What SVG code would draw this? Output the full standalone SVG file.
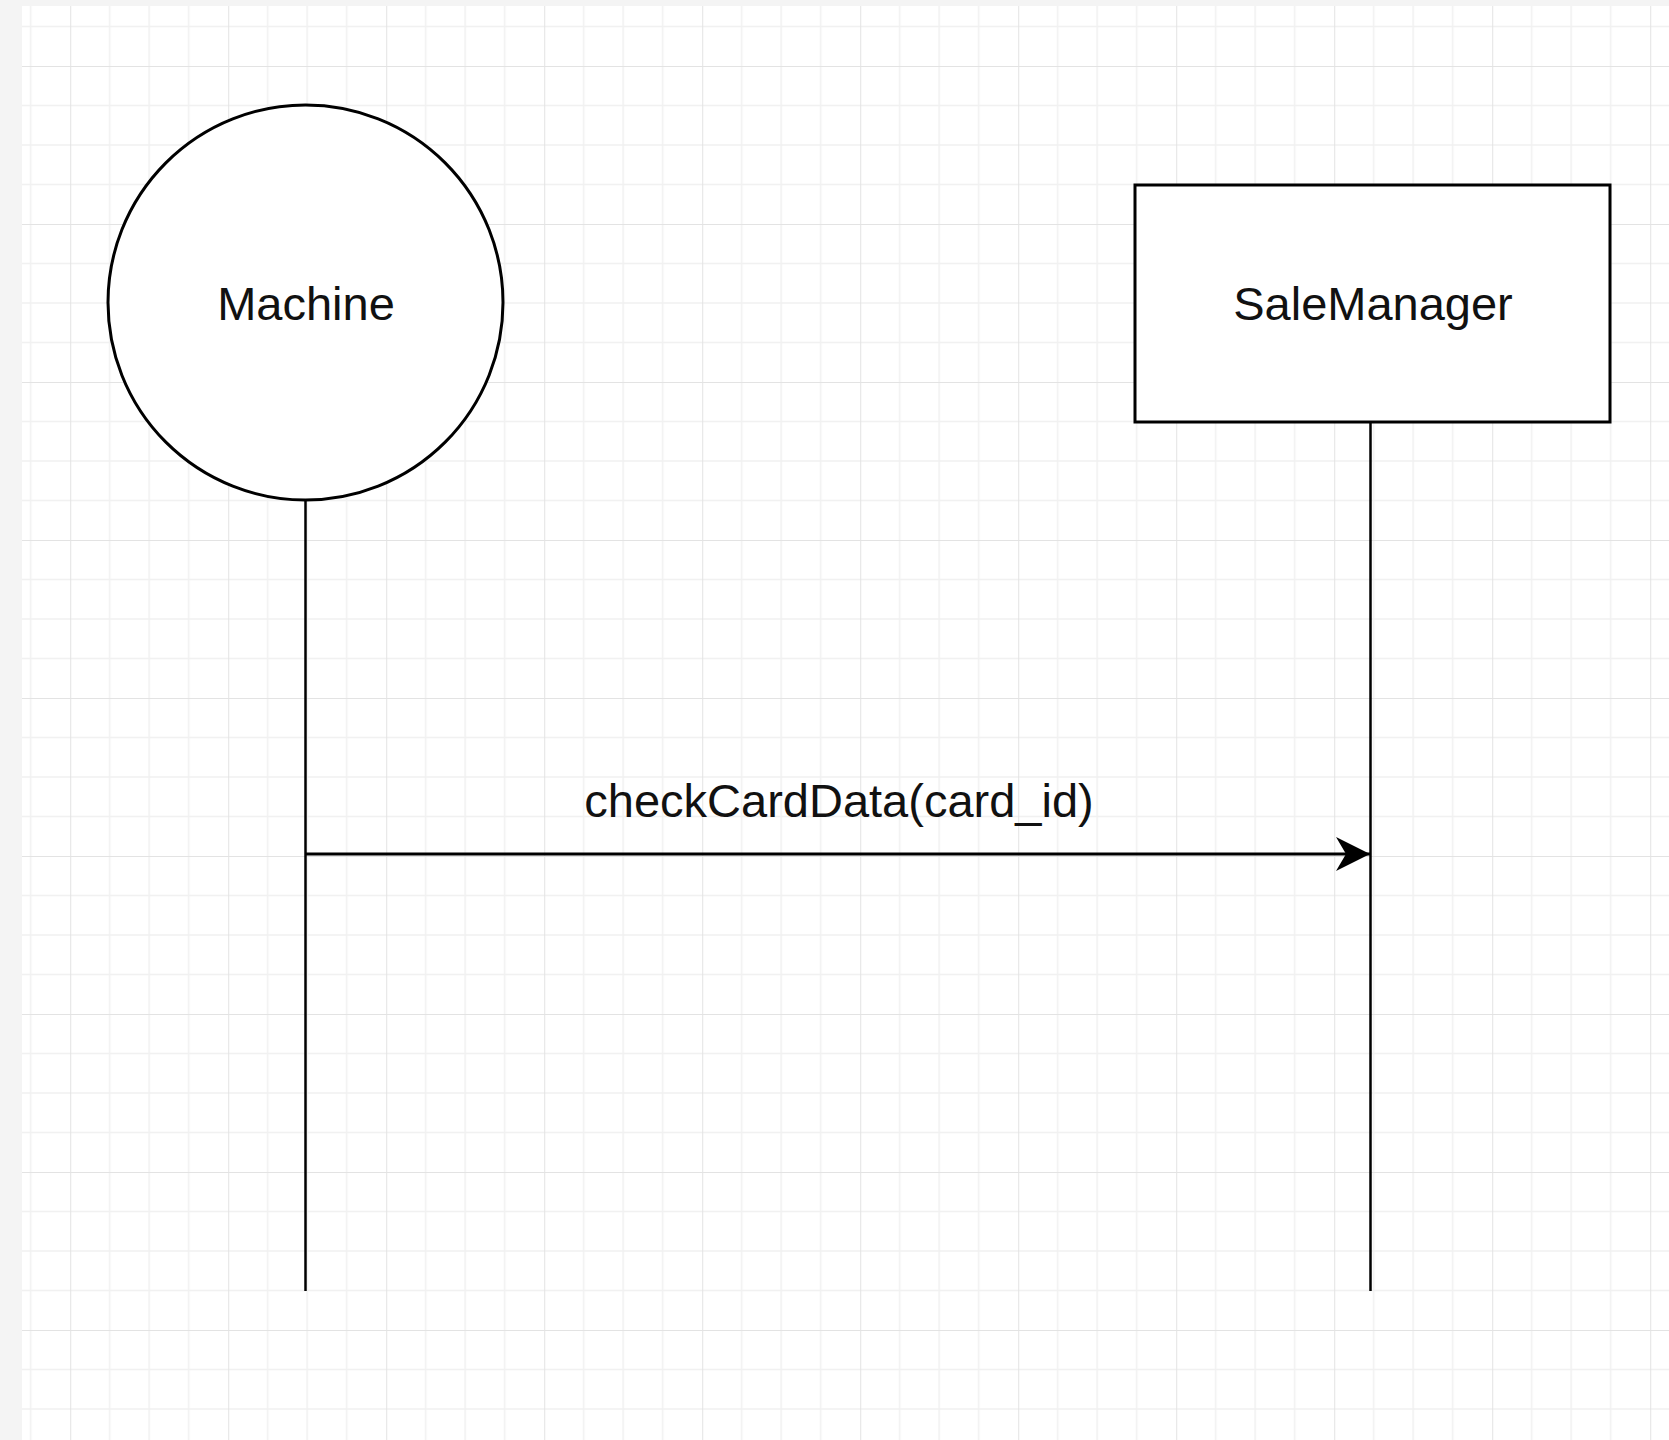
<svg xmlns="http://www.w3.org/2000/svg" width="1669" height="1440" viewBox="0 0 1669 1440">
  <style>
    .shape { fill: #ffffff; stroke: #000000; stroke-width: 3; }
    .label { font-family: "Liberation Sans", Arial, sans-serif; font-size: 47px; fill: #111111; text-anchor: middle; }
    .life { stroke: #000000; stroke-width: 2.5; fill: none; }
    .msg { stroke: #000000; stroke-width: 3; fill: none; }
  </style>
  <defs>
    <pattern id="grid" patternUnits="userSpaceOnUse" x="70.2" y="66" width="158" height="158">
      <rect width="158" height="158" fill="#ffffff"/>
      <g stroke="#f1f1f1" stroke-width="1.5">
        <line x1="39.5" y1="0" x2="39.5" y2="158"/>
        <line x1="79" y1="0" x2="79" y2="158"/>
        <line x1="118.5" y1="0" x2="118.5" y2="158"/>
        <line x1="0" y1="39.5" x2="158" y2="39.5"/>
        <line x1="0" y1="79" x2="158" y2="79"/>
        <line x1="0" y1="118.5" x2="158" y2="118.5"/>
      </g>
      <g stroke="#e3e3e3" stroke-width="2">
        <line x1="0" y1="0" x2="0" y2="158"/>
        <line x1="0" y1="0" x2="158" y2="0"/>
      </g>
    </pattern>
    <marker id="arrow" markerUnits="userSpaceOnUse" markerWidth="40" markerHeight="40" refX="34" refY="17" orient="auto">
      <path d="M0,0 L34,17 L0,34 L10,17 Z" fill="#000000"/>
    </marker>
  </defs>
  <rect x="0" y="0" width="1669" height="1440" fill="#f4f4f4"/>
  <rect x="22" y="6" width="1647" height="1434" fill="url(#grid)"/>

  <g id="connectors">
    <line class="life" x1="305.5" y1="500" x2="305.5" y2="1291"/>
    <line class="life" x1="1370.5" y1="422" x2="1370.5" y2="1291"/>
    <line class="msg" x1="305.5" y1="854" x2="1370" y2="854" marker-end="url(#arrow)"/>
    <text class="label" x="839" y="817">checkCardData(card_id)</text>
  </g>

  <g id="machine">
    <circle class="shape" cx="305.5" cy="302.5" r="197.5"/>
    <text class="label" x="306" y="320">Machine</text>
  </g>

  <g id="salemanager">
    <rect class="shape" x="1135" y="185" width="475" height="237"/>
    <text class="label" x="1373" y="320">SaleManager</text>
  </g>
</svg>
